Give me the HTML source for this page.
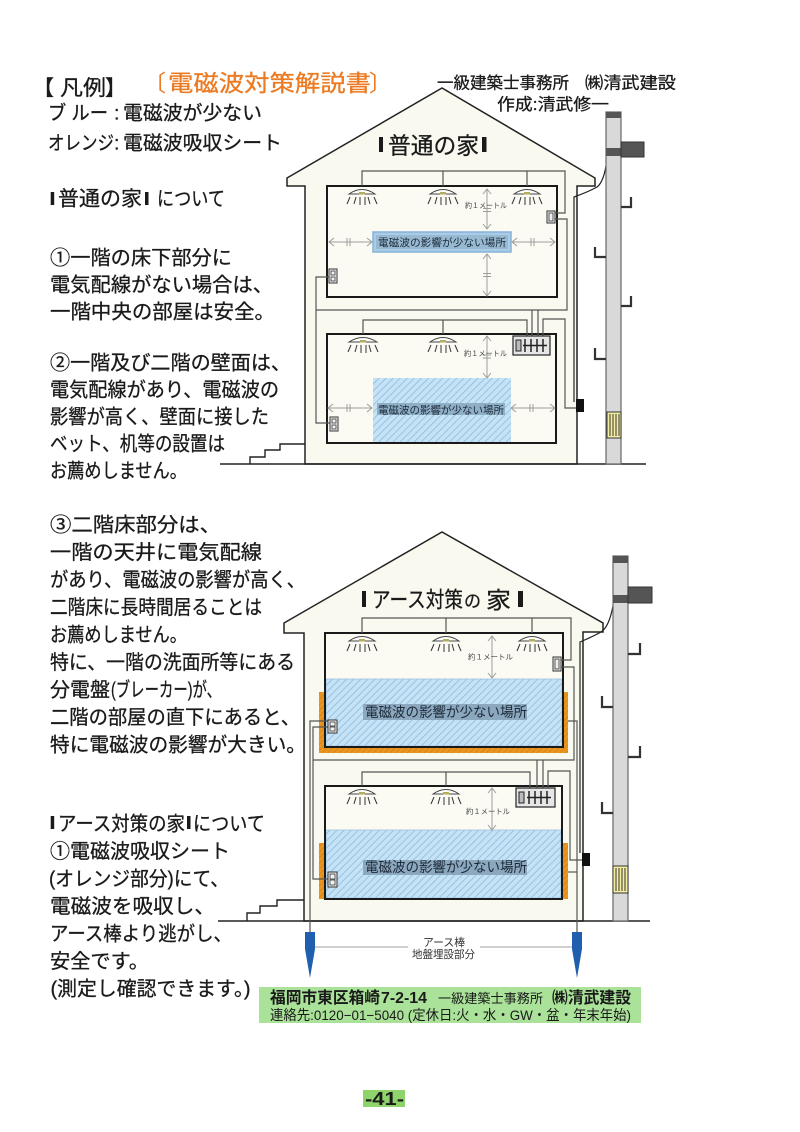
<!DOCTYPE html>
<html><head><meta charset="utf-8">
<style>
html,body{margin:0;padding:0;background:#fff;}
body{width:800px;height:1132px;position:relative;overflow:hidden;}
svg{position:absolute;left:0;top:0;}
text{font-family:"Liberation Sans","Noto Sans CJK JP",sans-serif;fill:#1a1a1a;}
.bd text{stroke:#1a1a1a;stroke-width:0.3;}
</style></head><body>
<svg width="800" height="1132" viewBox="0 0 800 1132" xmlns="http://www.w3.org/2000/svg">
<defs>
<pattern id="hb" patternUnits="userSpaceOnUse" width="5" height="5" patternTransform="rotate(45)">
<rect width="5" height="5" fill="#c6e3f6"/>
<line x1="0" y1="0" x2="0" y2="5" stroke="#86b8de" stroke-width="1.5"/>
</pattern>
<pattern id="ob" patternUnits="userSpaceOnUse" width="4" height="4" patternTransform="rotate(45)">
<rect width="4" height="4" fill="#e9951f"/>
<line x1="0" y1="0" x2="0" y2="4" stroke="#cc7810" stroke-width="1"/>
</pattern>
</defs>

<!-- ================= TOP HOUSE ================= -->
<polygon points="287,178 442,88 595,178 595,186 577,186 577,464 305,464 305,186 287,186" fill="#f9f9ef" stroke="#222" stroke-width="1.5"/>
<polyline points="250,464 250,457 265,457 265,450 280,450 280,444 305,444" fill="none" stroke="#222" stroke-width="1.4"/>
<line x1="220" y1="464" x2="646" y2="464" stroke="#222" stroke-width="1.6"/>

<rect x="327" y="186" width="230" height="111" fill="#fbfbf4" stroke="#1a1a1a" stroke-width="2"/>
<rect x="327" y="334" width="229" height="109" fill="#fbfbf4" stroke="#1a1a1a" stroke-width="2"/>
<rect x="373" y="378" width="138" height="64" fill="url(#hb)"/>
<rect x="327" y="334" width="229" height="109" fill="none" stroke="#1a1a1a" stroke-width="2"/>

<g fill="none" stroke="#555" stroke-width="1.2">
<polyline points="362,186 362,171 565,171 565,213 555,213"/>
<line x1="443" y1="171" x2="443" y2="186"/>
<line x1="527" y1="171" x2="527" y2="186"/>
<polyline points="555,219 567,219 567,310 316,310"/>
<polyline points="329,277 316,277 316,423 330,423"/>
<polyline points="363,334 363,320 527,320 527,336"/>
<line x1="443" y1="320" x2="443" y2="334"/>
<line x1="532" y1="310" x2="532" y2="336"/>
<line x1="538" y1="310" x2="538" y2="336"/>
<polyline points="543,336 543,319 565,319 565,408 577,408"/>
</g>
<path d="M607,160 Q604,182 597,187 Q588,192 574,197 L574,402" fill="none" stroke="#222" stroke-width="1.2"/>
<rect x="576" y="399" width="8" height="13" fill="#111"/>

<g stroke="#444" stroke-width="1">
<path d="M349,194 Q362,185 375,194 Z" fill="#fff"/><rect x="359" y="192" width="6" height="2.5" fill="#b5ad5a" stroke="none"/>
<path d="M430,194 Q443,185 456,194 Z" fill="#fff"/><rect x="440" y="192" width="6" height="2.5" fill="#b5ad5a" stroke="none"/>
<path d="M514,194 Q527,185 540,194 Z" fill="#fff"/><rect x="524" y="192" width="6" height="2.5" fill="#b5ad5a" stroke="none"/>
<path d="M349,342 Q363,333 377,342 Z" fill="#fff"/><rect x="360" y="340" width="6" height="2.5" fill="#b5ad5a" stroke="none"/>
<path d="M430,342 Q443,333 456,342 Z" fill="#fff"/><rect x="440" y="340" width="6" height="2.5" fill="#b5ad5a" stroke="none"/>
</g>
<g stroke="#333" stroke-width="1">
<line x1="347" y1="204" x2="350" y2="197"/><line x1="354" y1="204" x2="356" y2="197"/><line x1="360" y1="205" x2="360" y2="197"/><line x1="365" y1="205" x2="365" y2="197"/><line x1="370" y1="204" x2="368" y2="197"/><line x1="377" y1="204" x2="374" y2="197"/>
<line x1="428" y1="204" x2="431" y2="197"/><line x1="435" y1="204" x2="437" y2="197"/><line x1="441" y1="205" x2="441" y2="197"/><line x1="446" y1="205" x2="446" y2="197"/><line x1="451" y1="204" x2="449" y2="197"/><line x1="458" y1="204" x2="455" y2="197"/>
<line x1="512" y1="204" x2="515" y2="197"/><line x1="519" y1="204" x2="521" y2="197"/><line x1="525" y1="205" x2="525" y2="197"/><line x1="530" y1="205" x2="530" y2="197"/><line x1="535" y1="204" x2="533" y2="197"/><line x1="542" y1="204" x2="539" y2="197"/>
<line x1="348" y1="352" x2="351" y2="345"/><line x1="355" y1="352" x2="357" y2="345"/><line x1="361" y1="353" x2="361" y2="345"/><line x1="366" y1="353" x2="366" y2="345"/><line x1="371" y1="352" x2="369" y2="345"/><line x1="378" y1="352" x2="375" y2="345"/>
<line x1="428" y1="352" x2="431" y2="345"/><line x1="435" y1="352" x2="437" y2="345"/><line x1="441" y1="353" x2="441" y2="345"/><line x1="446" y1="353" x2="446" y2="345"/><line x1="451" y1="352" x2="449" y2="345"/><line x1="458" y1="352" x2="455" y2="345"/>
</g>

<g fill="none" stroke="#9c9c9c" stroke-width="1">
<line x1="487" y1="189" x2="487" y2="229"/><polyline points="483,194 487,189 491,194"/><polyline points="483,224 487,229 491,224"/>
<line x1="483" y1="208.5" x2="491" y2="208.5"/><line x1="483" y1="211.5" x2="491" y2="211.5"/>
<line x1="487" y1="254" x2="487" y2="296"/><polyline points="483,259 487,254 491,259"/><polyline points="483,291 487,296 491,291"/>
<line x1="483" y1="273.5" x2="491" y2="273.5"/><line x1="483" y1="276.5" x2="491" y2="276.5"/>
<line x1="329" y1="242" x2="372" y2="242"/><polyline points="334,238 329,242 334,246"/><polyline points="367,238 372,242 367,246"/>
<line x1="347" y1="238" x2="347" y2="246"/><line x1="350" y1="238" x2="350" y2="246"/>
<line x1="512" y1="242" x2="555" y2="242"/><polyline points="517,238 512,242 517,246"/><polyline points="550,238 555,242 550,246"/>
<line x1="531" y1="238" x2="531" y2="246"/><line x1="534" y1="238" x2="534" y2="246"/>
<line x1="487" y1="336" x2="487" y2="378"/><polyline points="483,341 487,336 491,341"/><polyline points="483,373 487,378 491,373"/>
<line x1="483" y1="355" x2="491" y2="355"/><line x1="483" y1="358" x2="491" y2="358"/>
<line x1="328" y1="408" x2="372" y2="408"/><polyline points="333,404 328,408 333,412"/><polyline points="367,404 372,408 367,412"/>
<line x1="347" y1="404" x2="347" y2="412"/><line x1="350" y1="404" x2="350" y2="412"/>
<line x1="511" y1="408" x2="555" y2="408"/><polyline points="516,404 511,408 516,412"/><polyline points="550,404 555,408 550,412"/>
<line x1="530" y1="404" x2="530" y2="412"/><line x1="533" y1="404" x2="533" y2="412"/>
</g>

<rect x="373" y="232" width="138" height="20" fill="#abcce6" stroke="#85b2d8" stroke-width="1.5"/>
<rect x="376" y="235" width="132" height="14" fill="#98b9d2"/>
<rect x="377" y="403" width="128" height="12" fill="#8fafc7"/>

<rect x="547" y="211" width="8" height="12" fill="#eee" stroke="#333" stroke-width="1"/><rect x="549" y="213" width="4" height="8" fill="none" stroke="#333" stroke-width="0.8"/>
<rect x="329" y="269" width="8" height="14" fill="#f2f2f2" stroke="#333" stroke-width="1"/><rect x="331" y="271" width="4" height="4" fill="none" stroke="#333" stroke-width="0.8"/><rect x="331" y="277" width="4" height="4" fill="none" stroke="#333" stroke-width="0.8"/>
<rect x="330" y="417" width="8" height="14" fill="#f2f2f2" stroke="#333" stroke-width="1"/><rect x="332" y="419" width="4" height="4" fill="none" stroke="#333" stroke-width="0.8"/><rect x="332" y="425" width="4" height="4" fill="none" stroke="#333" stroke-width="0.8"/>
<rect x="513" y="336" width="37" height="19" fill="#e6e6e6" stroke="#222" stroke-width="1.2"/>
<rect x="516" y="340" width="5" height="11" fill="#bbb" stroke="#222" stroke-width="1"/>
<g stroke="#222" stroke-width="1.5"><line x1="525" y1="339" x2="525" y2="352"/><line x1="531" y1="339" x2="531" y2="352"/><line x1="537" y1="339" x2="537" y2="352"/><line x1="543" y1="339" x2="543" y2="352"/><line x1="523" y1="345.5" x2="547" y2="345.5"/></g>

<rect x="606" y="112" width="15" height="352" fill="#d9d9d9" stroke="#666" stroke-width="1.2"/>
<rect x="606" y="112" width="15" height="6" fill="#555"/>
<rect x="606" y="148" width="15" height="8" fill="#555"/>
<rect x="621" y="142" width="23" height="15" fill="#555" stroke="#333" stroke-width="1"/>
<rect x="607" y="412" width="14" height="26" fill="#f4efa0" stroke="#333" stroke-width="1"/>
<g stroke="#333" stroke-width="1"><line x1="610" y1="414" x2="610" y2="436"/><line x1="613" y1="414" x2="613" y2="436"/><line x1="616" y1="414" x2="616" y2="436"/><line x1="619" y1="414" x2="619" y2="436"/></g>
<g fill="none" stroke="#333" stroke-width="2.2">
<polyline points="621,207 631,207 631,197"/>
<polyline points="595,247 595,257 606,257"/>
<polyline points="621,306 631,306 631,296"/>
<polyline points="595,348 595,359 606,359"/>
</g>

<!-- ================= BOTTOM HOUSE ================= -->
<polygon points="284,623 442,532 603,623 603,632 583,632 583,921 304,921 304,633 284,633" fill="#f9f9ef" stroke="#222" stroke-width="1.5"/>
<polyline points="247,921 247,913 260,913 260,906 277,906 277,900 304,900" fill="none" stroke="#222" stroke-width="1.4"/>
<line x1="218" y1="921" x2="650" y2="921" stroke="#222" stroke-width="1.6"/>

<rect x="319" y="692" width="249" height="61" fill="url(#ob)"/>
<rect x="319" y="843" width="249" height="56" fill="url(#ob)"/>

<rect x="325" y="633" width="238" height="114" fill="#fbfbf4"/>
<rect x="326" y="679" width="236" height="67" fill="url(#hb)" stroke="#9cc0dc" stroke-width="0.8"/>
<rect x="325" y="633" width="238" height="114" fill="none" stroke="#1a1a1a" stroke-width="2"/>
<rect x="325" y="786" width="237" height="113" fill="#fbfbf4"/>
<rect x="326" y="830" width="235" height="68" fill="url(#hb)" stroke="#9cc0dc" stroke-width="0.8"/>
<rect x="325" y="786" width="237" height="113" fill="none" stroke="#1a1a1a" stroke-width="2"/>

<g fill="none" stroke="#555" stroke-width="1.2">
<polyline points="362,633 362,618 571,618 571,660 561,660"/>
<line x1="446" y1="618" x2="446" y2="633"/>
<line x1="532" y1="618" x2="532" y2="633"/>
<polyline points="561,667 574,667 574,760 313,760"/>
<polyline points="328,721 310,721 310,932"/>
<polyline points="328,727 313,727 313,879 328,879"/>
<polyline points="568,721 577,721 577,932"/>
<line x1="568" y1="872" x2="577" y2="872"/>
<polyline points="362,786 362,772 530,772 530,788"/>
<line x1="446" y1="772" x2="446" y2="786"/>
<line x1="537" y1="760" x2="537" y2="788"/>
<line x1="543" y1="760" x2="543" y2="788"/>
<polyline points="548,788 548,771 570,771 570,860 582,860"/>
</g>
<path d="M613,606 Q609,627 601,632 Q592,637 580,642 L580,853" fill="none" stroke="#222" stroke-width="1.2"/>
<rect x="582" y="853" width="8" height="13" fill="#111"/>

<g stroke="#444" stroke-width="1">
<path d="M349,641 Q362,632 375,641 Z" fill="#fff"/><rect x="359" y="639" width="6" height="2.5" fill="#b5ad5a" stroke="none"/>
<path d="M433,641 Q446,632 459,641 Z" fill="#fff"/><rect x="443" y="639" width="6" height="2.5" fill="#b5ad5a" stroke="none"/>
<path d="M519,641 Q532,632 545,641 Z" fill="#fff"/><rect x="529" y="639" width="6" height="2.5" fill="#b5ad5a" stroke="none"/>
<path d="M349,794 Q362,785 375,794 Z" fill="#fff"/><rect x="359" y="792" width="6" height="2.5" fill="#b5ad5a" stroke="none"/>
<path d="M433,794 Q446,785 459,794 Z" fill="#fff"/><rect x="443" y="792" width="6" height="2.5" fill="#b5ad5a" stroke="none"/>
</g>
<g stroke="#333" stroke-width="1">
<line x1="347" y1="651" x2="350" y2="644"/><line x1="354" y1="651" x2="356" y2="644"/><line x1="360" y1="652" x2="360" y2="644"/><line x1="365" y1="652" x2="365" y2="644"/><line x1="370" y1="651" x2="368" y2="644"/><line x1="377" y1="651" x2="374" y2="644"/>
<line x1="431" y1="651" x2="434" y2="644"/><line x1="438" y1="651" x2="440" y2="644"/><line x1="444" y1="652" x2="444" y2="644"/><line x1="449" y1="652" x2="449" y2="644"/><line x1="454" y1="651" x2="452" y2="644"/><line x1="461" y1="651" x2="458" y2="644"/>
<line x1="517" y1="651" x2="520" y2="644"/><line x1="524" y1="651" x2="526" y2="644"/><line x1="530" y1="652" x2="530" y2="644"/><line x1="535" y1="652" x2="535" y2="644"/><line x1="540" y1="651" x2="538" y2="644"/><line x1="547" y1="651" x2="544" y2="644"/>
<line x1="347" y1="804" x2="350" y2="797"/><line x1="354" y1="804" x2="356" y2="797"/><line x1="360" y1="805" x2="360" y2="797"/><line x1="365" y1="805" x2="365" y2="797"/><line x1="370" y1="804" x2="368" y2="797"/><line x1="377" y1="804" x2="374" y2="797"/>
<line x1="431" y1="804" x2="434" y2="797"/><line x1="438" y1="804" x2="440" y2="797"/><line x1="444" y1="805" x2="444" y2="797"/><line x1="449" y1="805" x2="449" y2="797"/><line x1="454" y1="804" x2="452" y2="797"/><line x1="461" y1="804" x2="458" y2="797"/>
</g>

<g fill="none" stroke="#9c9c9c" stroke-width="1">
<line x1="492" y1="636" x2="492" y2="678"/><polyline points="488,641 492,636 496,641"/><polyline points="488,673 492,678 496,673"/>
<line x1="492" y1="788" x2="492" y2="830"/><polyline points="488,793 492,788 496,793"/><polyline points="488,825 492,830 496,825"/>
</g>

<rect x="363" y="704" width="164" height="16" fill="#8ca8be"/>
<rect x="363" y="860" width="164" height="15" fill="#8ca8be"/>

<rect x="553" y="657" width="8" height="14" fill="#eee" stroke="#333" stroke-width="1"/><rect x="555" y="659" width="4" height="10" fill="none" stroke="#333" stroke-width="0.8"/>
<rect x="328" y="720" width="9" height="13" fill="#f2f2f2" stroke="#333" stroke-width="1"/><rect x="330" y="722" width="5" height="4" fill="none" stroke="#333" stroke-width="0.8"/><rect x="330" y="727" width="5" height="4" fill="none" stroke="#333" stroke-width="0.8"/>
<rect x="328" y="872" width="9" height="15" fill="#f2f2f2" stroke="#333" stroke-width="1"/><rect x="330" y="874" width="5" height="5" fill="none" stroke="#333" stroke-width="0.8"/><rect x="330" y="880" width="5" height="5" fill="none" stroke="#333" stroke-width="0.8"/>
<rect x="516" y="788" width="39" height="19" fill="#e6e6e6" stroke="#222" stroke-width="1.2"/>
<rect x="519" y="792" width="5" height="11" fill="#bbb" stroke="#222" stroke-width="1"/>
<g stroke="#222" stroke-width="1.5"><line x1="529" y1="791" x2="529" y2="804"/><line x1="535" y1="791" x2="535" y2="804"/><line x1="541" y1="791" x2="541" y2="804"/><line x1="547" y1="791" x2="547" y2="804"/><line x1="527" y1="797.5" x2="551" y2="797.5"/></g>

<rect x="613" y="556" width="15" height="365" fill="#d9d9d9" stroke="#666" stroke-width="1.2"/>
<rect x="613" y="556" width="15" height="7" fill="#555"/>
<rect x="613" y="595" width="15" height="8" fill="#555"/>
<rect x="628" y="587" width="24" height="16" fill="#555" stroke="#333" stroke-width="1"/>
<rect x="613" y="866" width="15" height="27" fill="#f4efa0" stroke="#333" stroke-width="1"/>
<g stroke="#333" stroke-width="1"><line x1="616" y1="868" x2="616" y2="891"/><line x1="619" y1="868" x2="619" y2="891"/><line x1="622" y1="868" x2="622" y2="891"/><line x1="625" y1="868" x2="625" y2="891"/></g>
<g fill="none" stroke="#333" stroke-width="2.2">
<polyline points="628,654 640,654 640,643"/>
<polyline points="602,696 602,707 613,707"/>
<polyline points="628,757 640,757 640,746"/>
<polyline points="602,802 602,813 613,813"/>
</g>

<path d="M305,932 L315,932 L315,949 L310,978 L305,949 Z" fill="#1f5fae"/>
<path d="M572,932 L582,932 L582,949 L577,978 L572,949 Z" fill="#1f5fae"/>
<line x1="315" y1="947" x2="408" y2="947" stroke="#a0a0a0" stroke-width="1"/>
<line x1="480" y1="947" x2="572" y2="947" stroke="#a0a0a0" stroke-width="1"/>

<rect x="259" y="987" width="382" height="36" fill="#aae299"/>
<rect x="363" y="1090" width="42" height="17" fill="#8fd36c"/>

<!-- ================= TEXT ================= -->
<g class="bd">
<text x="33" y="95" font-size="21">【</text>
<text x="60" y="95" font-size="21" textLength="46" lengthAdjust="spacingAndGlyphs">凡例</text>
<text x="105" y="95" font-size="21">】</text>
<text x="48" y="119.4" font-size="19.5" textLength="60" lengthAdjust="spacingAndGlyphs">ブ ルー</text>
<text x="114" y="119.4" font-size="19.5">:</text>
<text x="123" y="119.4" font-size="19.5" textLength="139" lengthAdjust="spacingAndGlyphs">電磁波が少ない</text>
<text x="48" y="149.4" font-size="19.5" textLength="66" lengthAdjust="spacingAndGlyphs">オレンジ</text>
<text x="114" y="149.4" font-size="19.5">:</text>
<text x="123" y="149.4" font-size="19.5" textLength="159" lengthAdjust="spacingAndGlyphs">電磁波吸収シート</text>

<text x="437" y="88.3" font-size="16.5" textLength="132" lengthAdjust="spacingAndGlyphs">一級建築士事務所</text>
<text x="585" y="88.3" font-size="16.5" textLength="91" lengthAdjust="spacingAndGlyphs">㈱清武建設</text>
<text x="497" y="109.8" font-size="16.5" textLength="112" lengthAdjust="spacingAndGlyphs">作成:清武修一</text>

<text x="58" y="205.6" font-size="20.5" textLength="84" lengthAdjust="spacingAndGlyphs">普通の家</text>
<text x="157" y="205.6" font-size="20" textLength="68" lengthAdjust="spacingAndGlyphs">について</text>

<g font-size="20">
<text x="50" y="264.6" textLength="182" lengthAdjust="spacingAndGlyphs">①一階の床下部分に</text>
<text x="50" y="291.6" textLength="223" lengthAdjust="spacingAndGlyphs">電気配線がない場合は、</text>
<text x="50" y="318.6" textLength="225" lengthAdjust="spacingAndGlyphs">一階中央の部屋は安全。</text>

<text x="50" y="369.6" textLength="241" lengthAdjust="spacingAndGlyphs">②一階及び二階の壁面は、</text>
<text x="50" y="396.6" textLength="229" lengthAdjust="spacingAndGlyphs">電気配線があり、電磁波の</text>
<text x="50" y="423.6" textLength="219" lengthAdjust="spacingAndGlyphs">影響が高く、壁面に接した</text>
<text x="50" y="450.6" textLength="175" lengthAdjust="spacingAndGlyphs">ベット、机等の設置は</text>
<text x="50" y="477.6" textLength="137" lengthAdjust="spacingAndGlyphs">お薦めしません。</text>

<text x="50" y="531.6" textLength="171" lengthAdjust="spacingAndGlyphs">③二階床部分は、</text>
<text x="50" y="559.1" textLength="212" lengthAdjust="spacingAndGlyphs">一階の天井に電気配線</text>
<text x="50" y="586.6" textLength="255" lengthAdjust="spacingAndGlyphs">があり、電磁波の影響が高く、</text>
<text x="50" y="614.1" textLength="212" lengthAdjust="spacingAndGlyphs">二階床に長時間居ることは</text>
<text x="50" y="641.6" textLength="137" lengthAdjust="spacingAndGlyphs">お薦めしません。</text>
<text x="50" y="669.1" textLength="245" lengthAdjust="spacingAndGlyphs">特に、一階の洗面所等にある</text>
<text x="50" y="696.6" textLength="60" lengthAdjust="spacingAndGlyphs">分電盤</text>
<text x="111" y="696.6" textLength="110" lengthAdjust="spacingAndGlyphs">(ブレーカー)が、</text>
<text x="50" y="724.1" textLength="250" lengthAdjust="spacingAndGlyphs">二階の部屋の直下にあると、</text>
<text x="50" y="751.6" textLength="256" lengthAdjust="spacingAndGlyphs">特に電磁波の影響が大きい。</text>

<text x="58" y="830.6" textLength="127" lengthAdjust="spacingAndGlyphs">アース対策の家</text>
<text x="193" y="830.6" textLength="72" lengthAdjust="spacingAndGlyphs">について</text>
<text x="50" y="858.1" textLength="180" lengthAdjust="spacingAndGlyphs">①電磁波吸収シート</text>
<text x="49" y="885.6" textLength="180" lengthAdjust="spacingAndGlyphs">(オレンジ部分)にて、</text>
<text x="50" y="913.1" textLength="165" lengthAdjust="spacingAndGlyphs">電磁波を吸収し、</text>
<text x="50" y="940.6" textLength="182" lengthAdjust="spacingAndGlyphs">アース棒より逃がし、</text>
<text x="50" y="968.1" textLength="99" lengthAdjust="spacingAndGlyphs">安全です。</text>
<text x="50.5" y="995.6" textLength="200" lengthAdjust="spacingAndGlyphs">(測定し確認できます。)</text>
</g>

<text x="388" y="153.7" font-size="23" textLength="91" lengthAdjust="spacingAndGlyphs">普通の家</text>
<text x="372" y="607.4" font-size="22" textLength="91" lengthAdjust="spacingAndGlyphs">アース対策</text>
<text x="464" y="607" font-size="17" textLength="17" lengthAdjust="spacingAndGlyphs">の</text>
<text x="486" y="608" font-size="23" textLength="25" lengthAdjust="spacingAndGlyphs">家</text>
</g>

<text x="143" y="91" font-size="23" style="fill:#ec7a22">〔</text>
<text x="168" y="91" font-size="23" textLength="203" lengthAdjust="spacingAndGlyphs" style="fill:#ec7a22;stroke:#ec7a22;stroke-width:0.3">電磁波対策解説書</text>
<text x="369" y="91" font-size="23" style="fill:#ec7a22">〕</text>

<rect x="50.7" y="192" width="3.5" height="13" fill="#1a1a1a"/>
<rect x="145" y="192" width="3.5" height="13" fill="#1a1a1a"/>
<rect x="50.7" y="816" width="3.5" height="13" fill="#1a1a1a"/>
<rect x="187" y="816" width="3.5" height="13" fill="#1a1a1a"/>
<rect x="379" y="137" width="4" height="15" fill="#1a1a1a"/>
<rect x="482" y="137" width="4.5" height="15" fill="#1a1a1a"/>
<rect x="362" y="591" width="4" height="16" fill="#1a1a1a"/>
<rect x="518" y="591" width="5" height="16" fill="#1a1a1a"/>

<text x="378" y="246" font-size="10.5" textLength="128" lengthAdjust="spacingAndGlyphs" style="fill:#1c2a38">電磁波の影響が少ない場所</text>
<text x="378" y="413.5" font-size="10.5" textLength="126" lengthAdjust="spacingAndGlyphs" style="fill:#1c2a38">電磁波の影響が少ない場所</text>
<text x="365" y="716.8" font-size="14" textLength="162" lengthAdjust="spacingAndGlyphs" style="fill:#1c2a38">電磁波の影響が少ない場所</text>
<text x="365" y="871.8" font-size="14" textLength="162" lengthAdjust="spacingAndGlyphs" style="fill:#1c2a38">電磁波の影響が少ない場所</text>

<text x="465" y="207.8" font-size="7.5" textLength="42" lengthAdjust="spacingAndGlyphs" style="fill:#444">約１メートル</text>
<text x="464" y="356" font-size="7.5" textLength="43" lengthAdjust="spacingAndGlyphs" style="fill:#444">約１メートル</text>
<text x="468" y="659.5" font-size="7.5" textLength="45" lengthAdjust="spacingAndGlyphs" style="fill:#444">約１メートル</text>
<text x="466" y="814" font-size="7.5" textLength="44" lengthAdjust="spacingAndGlyphs" style="fill:#444">約１メートル</text>

<text x="423" y="946" font-size="11" textLength="42" lengthAdjust="spacingAndGlyphs" style="fill:#333">アース棒</text>
<text x="412" y="958" font-size="11" textLength="63" lengthAdjust="spacingAndGlyphs" style="fill:#333">地盤埋設部分</text>

<text x="270" y="1003" font-size="16" font-weight="bold" textLength="110" lengthAdjust="spacingAndGlyphs">福岡市東区箱崎</text>
<text x="381" y="1003" font-size="16" font-weight="bold" textLength="46" lengthAdjust="spacingAndGlyphs">7-2-14</text>
<text x="438" y="1003" font-size="13" textLength="105" lengthAdjust="spacingAndGlyphs">一級建築士事務所</text>
<text x="552" y="1003" font-size="16" font-weight="bold" textLength="79" lengthAdjust="spacingAndGlyphs">㈱清武建設</text>
<text x="270" y="1019.8" font-size="14" textLength="361" lengthAdjust="spacingAndGlyphs">連絡先:0120−01−5040 (定休日:火・水・GW・盆・年末年始)</text>
<text x="365" y="1105" font-size="18" font-weight="bold" textLength="39" lengthAdjust="spacingAndGlyphs">-41-</text>
</svg>
</body></html>
